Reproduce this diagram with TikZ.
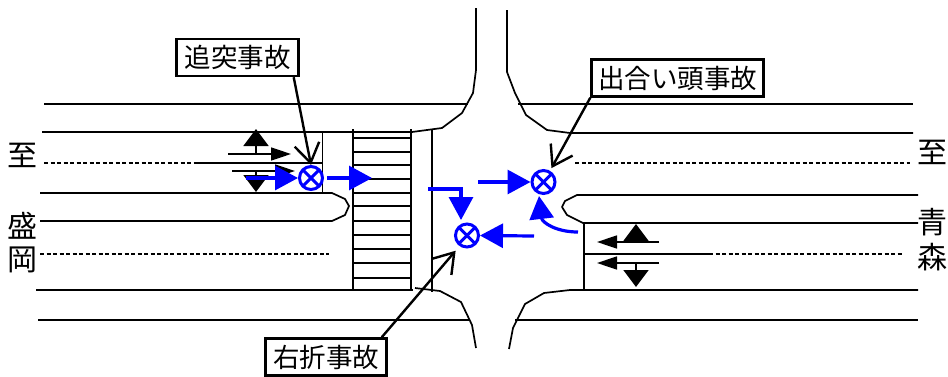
\documentclass[tikz,border=0pt]{standalone}
\usepackage{fontspec}
\setmainfont{Noto Sans CJK JP}
\usetikzlibrary{arrows.meta}
\definecolor{flowblue}{RGB}{0,0,255}
\begin{document}
\begin{tikzpicture}
    [x=1pt,y=-1pt,
    road/.style={line width=1.7pt,line join=round},
    thinroad/.style={line width=1.1pt},
    dashroad/.style={line width=1.1pt,dash pattern=on 4pt off 2.5pt},
    place/.style={inner sep=0pt,font=\fontsize{30}{30}\selectfont},
    callbox/.style={draw,line width=2.4pt,fill=white,inner sep=0pt,minimum height=37pt,font=\fontsize{26.5}{26.5}\selectfont},
    callarrow/.style={line width=2.4pt,-{Straight Barb[length=19pt,width=25pt,line width=2.4pt]}},
    lanearrow/.style={line width=1.7pt,-{Triangle[length=20pt,width=13pt]}},
    turnarrow/.style={line width=1.7pt,-{Triangle[length=17pt,width=25pt]}},
    flow/.style={draw=flowblue,line width=3.2pt,-{Triangle[length=23pt,width=24pt]},flowblue},
    crash/.style={circle,draw=flowblue,fill=white,line width=3pt,inner sep=0pt,minimum size=23pt,
      path picture={\draw [flowblue,line width=3pt] (path picture bounding box.north west) to (path picture bounding box.south east);
        \draw [flowblue,line width=3pt] (path picture bounding box.north east) to (path picture bounding box.south west);}}]
    \useasboundingbox (0,0) rectangle (948,376);
    % road edges
    \draw [road] (44,104) to (468,104);
    \draw [road] (518,104) to (913,104);
    \draw [road] (42,132) to (412,132) -- (442,128) -- (462,113) -- (473,93) -- (476,70) -- (476,8);
    \draw [road] (507,10) -- (507,72) -- (515,93) -- (526,115) -- (547,130) -- (570,133) to (913,133);
    \draw [road] (40,193) to (332,193) -- (345,199) -- (349,206) -- (345,215) -- (332,221) to (40,221);
    \draw [road] (918,195) to (577,195) -- (565,201) -- (562,207) -- (567,215) -- (583,223) to (918,223);
    \draw [road] (36,290) to (413,290);
    \draw [road] (415,288) -- (440,291) -- (461,302) -- (472,325) -- (476,348);
    \draw [road] (509,349) -- (513,328) -- (525,304) -- (544,293) -- (570,290) to (918,290);
    \draw [road] (38,320) to (470,320);
    \draw [road] (515,320) to (918,320);
    % centre lines
    \draw [dashroad] (44,163) to (195,163);
    \draw [thinroad] (195,163) to (322,163);
    \draw [dashroad] (575,163) to (910,163);
    \draw [dashroad] (40,254) to (329,254);
    \draw [thinroad] (584,254) to (709,254);
    \draw [dashroad] (709,254) to (902,254);
    % stop lines and crossing
    \draw [road] (322.5,132) to (322.5,193);
    \draw [road] (584,223) to (584,290);
    \draw [road] (353,129) to (353,290);
    \draw [road] (411,129) to (411,290);
    \draw [road] (432,130) to (432,292);
    \draw [thinroad] (353,138) to (411,138);
    \draw [thinroad] (353,152) to (411,152);
    \draw [thinroad] (353,165) to (411,165);
    \draw [thinroad] (353,179) to (411,179);
    \draw [thinroad] (353,193) to (411,193);
    \draw [thinroad] (353,206) to (411,206);
    \draw [thinroad] (353,221) to (411,221);
    \draw [thinroad] (353,235) to (411,235);
    \draw [thinroad] (353,249) to (411,249);
    \draw [thinroad] (353,263) to (411,263);
    \draw [thinroad] (353,278) to (411,278);
    % lane arrows
    \coordinate (la1) at (228,154);
    \coordinate (la2) at (291,154);
    \coordinate (la3) at (256,154);
    \coordinate (la4) at (256,129);
    \coordinate (lb1) at (232,171);
    \coordinate (lb2) at (295,171);
    \coordinate (lb3) at (256,171);
    \coordinate (lb4) at (256,192);
    \coordinate (ra1) at (659,242);
    \coordinate (ra2) at (597,242);
    \coordinate (ra3) at (636,242);
    \coordinate (ra4) at (636,224);
    \coordinate (rb1) at (659,263);
    \coordinate (rb2) at (597,263);
    \coordinate (rb3) at (636,262);
    \coordinate (rb4) at (636,287);
    \draw [lanearrow] (la1) to (la2);
    \draw [turnarrow] (la3) to (la4);
    \draw [lanearrow] (lb1) to (lb2);
    \draw [turnarrow] (lb3) to (lb4);
    \draw [lanearrow] (ra1) to (ra2);
    \draw [turnarrow] (ra3) to (ra4);
    \draw [lanearrow] (rb1) to (rb2);
    \draw [turnarrow] (rb3) to (rb4);
    % places
    \node (west1) at (22,155) [place] {至};
    \node (west2) at (22,226) [place] {盛};
    \node (west3) at (22,260) [place] {岡};
    \node (east1) at (932.5,152) [place] {至};
    \node (east2) at (932.5,222) [place] {青};
    \node (east3) at (932.5,257) [place] {森};
    % accidents
    \node (crash1) at (311,178) [crash] {};
    \node (crash2) at (543.5,182) [crash] {};
    \node (crash3) at (467,235.5) [crash] {};
    \node (box1) at (237.5,57.5) [callbox,minimum width=122pt] {追突事故};
    \node (box2) at (677.5,78) [callbox,minimum width=172pt] {出合い頭事故};
    \node (box3) at (326,357) [callbox,minimum width=121pt] {右折事故};
    \draw [callarrow] ([xshift=-6pt]box1.south east) to (crash1.north);
    \draw [callarrow,shorten >=3pt] (box2.south west) to (crash2.60);
    \draw [callarrow,shorten >=6pt] ([xshift=-6pt]box3.north east) to (crash3.235);
    % traffic flow
    \coordinate (f1) at (246,178);
    \coordinate (f2) at (327,178);
    \coordinate (f3) at (372,178);
    \coordinate (f4) at (428,189);
    \coordinate (f5) at (461,189);
    \coordinate (f6) at (461,220);
    \coordinate (f7) at (478,182);
    \coordinate (f8) at (534,236);
    \coordinate (f9) at (578,232);
    \coordinate (f10) at (539,196);
    \draw [flow] (f1) to (crash1.west);
    \draw [flow] (f2) to (f3);
    \draw [flow] (f4) -- (f5) -- (f6);
    \draw [flow] (f7) to (crash2.west);
    \draw [flow] (f8) to (crash3.east);
    \draw [flow] (f9) .. controls (555,232) and (542,222) .. (f10);
  \end{tikzpicture}
\end{document}
